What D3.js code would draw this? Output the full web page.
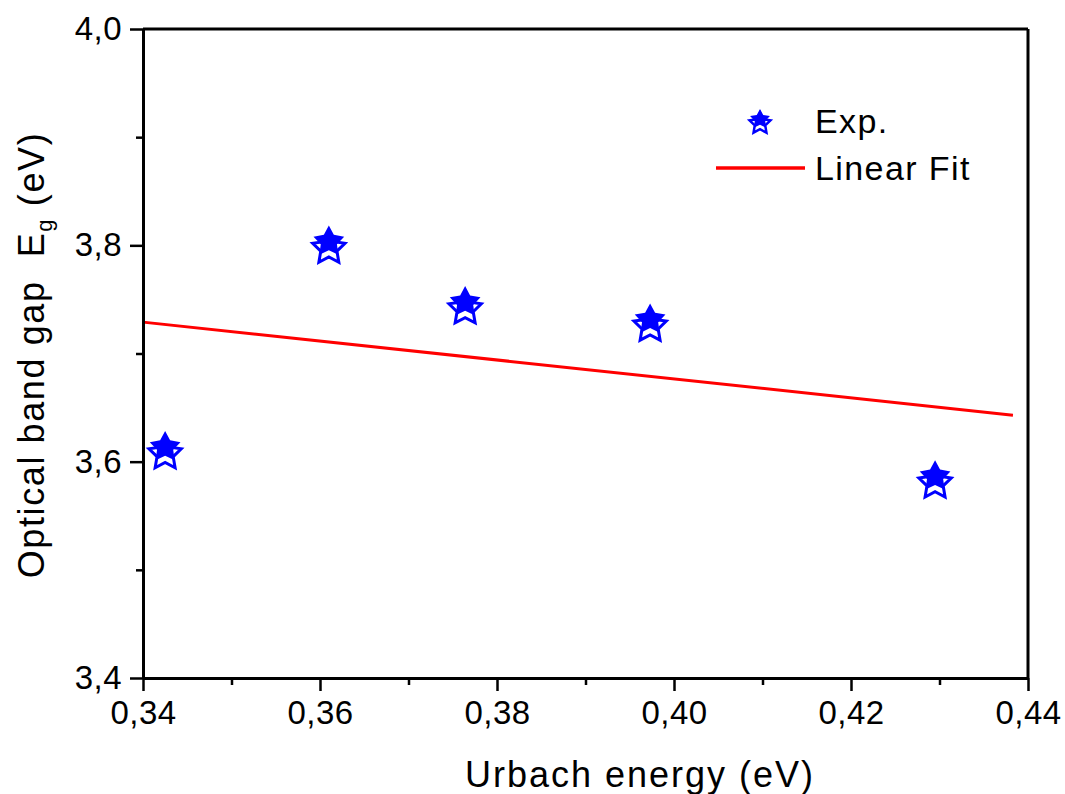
<!DOCTYPE html>
<html><head><meta charset="utf-8">
<script src="https://cdn.jsdelivr.net/npm/d3@7"></script>
<style>
html,body{margin:0;padding:0;background:#fff;}
text{font-family:"Liberation Sans",Arial,sans-serif;}
</style></head>
<body>
<script>
// Data
const urbach = [0.3425, 0.3610, 0.3764, 0.3973, 0.4295];
const bandGap = [3.611, 3.801, 3.745, 3.729, 3.584];
const fitX = [0.34, 0.4383];
const fitY = [3.729, 3.643];
const xTicks = [0.34, 0.36, 0.38, 0.40, 0.42, 0.44];
const xMinor = [0.35, 0.37, 0.39, 0.41, 0.43];
const yTicks = [3.4, 3.6, 3.8, 4.0];
const yMinor = [3.5, 3.7, 3.9];
const legendLabels = ["Exp.", "Linear Fit"];

const W = 1065, H = 794;
const L = 143, R = 1028, T = 29, B = 678;
const svg = d3.select("body").append("svg").attr("width", W).attr("height", H);

const x = d3.scaleLinear().domain([0.34, 0.44]).range([L, R]);
const y = d3.scaleLinear().domain([3.4, 4.0]).range([B, T]);
const fmt = d => d3.format(".2f")(d).replace(".", ",");
const fmtY = d => d3.format(".1f")(d).replace(".", ",");

// fit line
svg.append("path")
  .datum(fitX.map((v, i) => [v, fitY[i]]))
  .attr("d", d3.line().x(d => x(d[0])).y(d => y(d[1])))
  .attr("fill", "none").attr("stroke", "#ff0000").attr("stroke-width", 3);

// star path
function starPath(R0, r0) {
  const pts = [];
  for (let i = 0; i < 10; i++) {
    const a = -Math.PI / 2 + i * Math.PI / 5;
    const rr = i % 2 === 0 ? R0 : r0;
    pts.push([rr * Math.cos(a), rr * Math.sin(a)]);
  }
  return "M" + pts.map(p => p.join(",")).join("L") + "Z";
}
function drawStar(g, cx, cy, R0, sw) {
  g.append("path").attr("d", starPath(R0, R0 * 0.5)).attr("transform", `translate(${cx},${cy + R0 * 0.25})`)
    .attr("fill", "none").attr("stroke", "#0000ff").attr("stroke-width", sw).attr("stroke-linejoin", "miter");
  g.append("path").attr("d", starPath(R0 * 0.95, R0 * 0.5)).attr("transform", `translate(${cx},${cy - R0 * 0.15})`)
    .attr("fill", "#0000ff").attr("stroke", "none");
}
const gs = svg.append("g");
urbach.forEach((v, i) => drawStar(gs, x(v), y(bandGap[i]), 17, 3));

// axes: bottom
svg.append("g").attr("transform", `translate(0,${B})`)
  .call(d3.axisBottom(x).tickValues(xTicks).tickFormat(fmt).tickSizeInner(13).tickSizeOuter(0).tickPadding(10));
svg.append("g").attr("transform", `translate(0,${B})`)
  .call(d3.axisBottom(x).tickValues(xMinor).tickFormat("").tickSizeInner(7).tickSizeOuter(0));
svg.append("g").attr("transform", `translate(${L},0)`)
  .call(d3.axisLeft(y).tickValues(yTicks).tickFormat(fmtY).tickSizeInner(13).tickSizeOuter(0).tickPadding(8));
svg.append("g").attr("transform", `translate(${L},0)`)
  .call(d3.axisLeft(y).tickValues(yMinor).tickFormat("").tickSizeInner(7).tickSizeOuter(0));
svg.selectAll(".domain").attr("stroke", "#000").attr("stroke-width", 3);
svg.selectAll(".tick line").attr("stroke", "#000").attr("stroke-width", 2.5);
svg.selectAll(".tick text").attr("font-size", 33).attr("fill", "#000").attr("letter-spacing", 0.5)
  .attr("font-family", "Liberation Sans, Arial, sans-serif");

// top and right frame
svg.append("line").attr("x1", L).attr("x2", R).attr("y1", T).attr("y2", T).attr("stroke", "#000").attr("stroke-width", 3);
svg.append("line").attr("x1", R).attr("x2", R).attr("y1", T).attr("y2", B).attr("stroke", "#000").attr("stroke-width", 3);

// axis titles
svg.append("text").attr("x", 640).attr("y", 787).attr("text-anchor", "middle")
  .attr("font-size", 36).attr("letter-spacing", 2).text("Urbach energy (eV)");
const yt = svg.append("text").attr("transform", "translate(44,355) rotate(-90)")
  .attr("text-anchor", "middle").attr("font-size", 36).attr("letter-spacing", 1.6);
yt.append("tspan").text("Optical band gap\u00a0\u00a0E");
yt.append("tspan").attr("font-size", 22).attr("dy", 8).text("g");
yt.append("tspan").attr("dy", -8).text("\u00a0(eV)");

// legend
const lg = svg.append("g");
drawStar(lg, 760, 121, 11, 2.5);
lg.append("line").attr("x1", 716).attr("x2", 805).attr("y1", 168).attr("y2", 168)
  .attr("stroke", "#ff0000").attr("stroke-width", 3.5);
lg.selectAll("text.lgt").data(legendLabels).enter().append("text").attr("class", "lgt")
  .attr("x", 815).attr("y", (d, i) => 133 + i * 47).attr("font-size", 34).attr("letter-spacing", 1.4).text(d => d);
</script>
</body></html>
